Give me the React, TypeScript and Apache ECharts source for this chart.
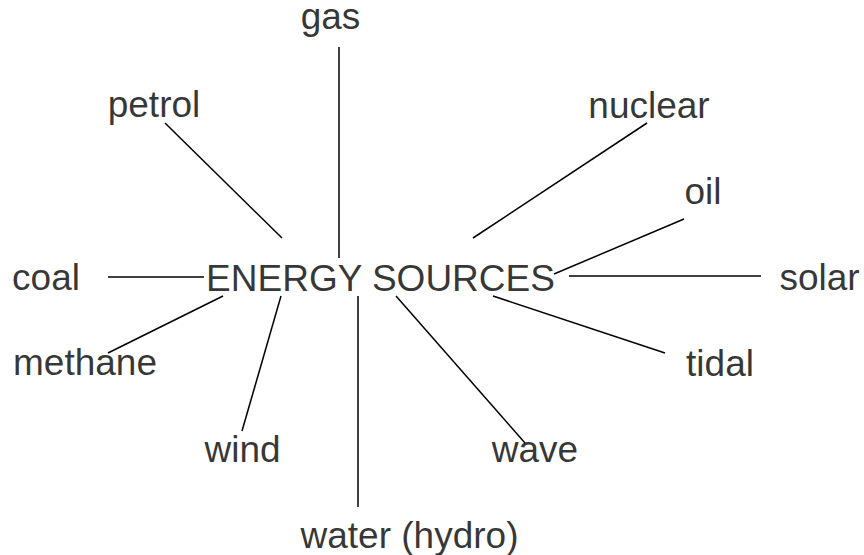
import React, { useEffect, useRef } from "react";
import * as echarts from "echarts";

// Diagram space: 864 x 555, y grows downward
const nodeNames = ["gas", "petrol", "nuclear", "oil", "coal", "ENERGY SOURCES", "solar", "methane", "tidal", "wind", "wave", "water (hydro)"];
const nodeX = [330.5, 154, 649, 703, 46, 380.5, 819.5, 85, 720, 242.5, 535, 409.5];
const nodeBaseline = [27, 115, 116, 202, 288, 289, 288, 373, 374, 460, 460, 546];

const linkNames = ["gas", "petrol", "nuclear", "oil", "coal", "solar", "methane", "tidal", "wind", "wave", "water (hydro)"];
const linkStart = [[339, 47], [165, 123], [647, 123], [684, 219], [108, 277], [569, 276], [223, 296], [493, 296], [281, 296], [396, 296], [358, 296]];
const linkEnd = [[339, 258], [282, 238], [473, 238], [554, 274], [204, 277], [761, 276], [108, 353], [665, 353], [242, 431], [525, 443], [358, 507]];

const FONT_SIZE = 37;
const BASELINE_OFFSET = 11;

export default function App() {
  const ref = useRef<HTMLDivElement>(null);
  useEffect(() => {
    document.body.style.margin = "0";
    const chart = echarts.init(ref.current!, undefined, { renderer: "svg" });
    chart.setOption({
      animation: false,
      backgroundColor: "#ffffff",
      grid: { left: 0, right: 0, top: 0, bottom: 0 },
      xAxis: { type: "value", min: 0, max: 864, show: false },
      yAxis: { type: "value", min: 0, max: 555, inverse: true, show: false },
      series: [
        {
          type: "lines",
          coordinateSystem: "cartesian2d",
          silent: true,
          lineStyle: { color: "#000000", width: 1.5, opacity: 1 },
          data: linkNames.map((n, i) => ({ name: n, coords: [linkStart[i], linkEnd[i]] })),
        },
        {
          type: "scatter",
          silent: true,
          symbolSize: 1,
          itemStyle: { color: "rgba(0,0,0,0)" },
          label: {
            show: true,
            position: "inside",
            formatter: (p: any) => p.name,
            color: "#000000",
            textBorderWidth: 0,
            fontSize: FONT_SIZE,
            lineHeight: 32,
            fontFamily: "'Liberation Sans', Arial, sans-serif",
          },
          data: nodeNames.map((n, i) => ({ name: n, value: [nodeX[i], nodeBaseline[i] - BASELINE_OFFSET] })),
        },
      ],
    });
    return () => chart.dispose();
  }, []);
  return <div ref={ref} style={{ width: 864, height: 555 }} />;
}
